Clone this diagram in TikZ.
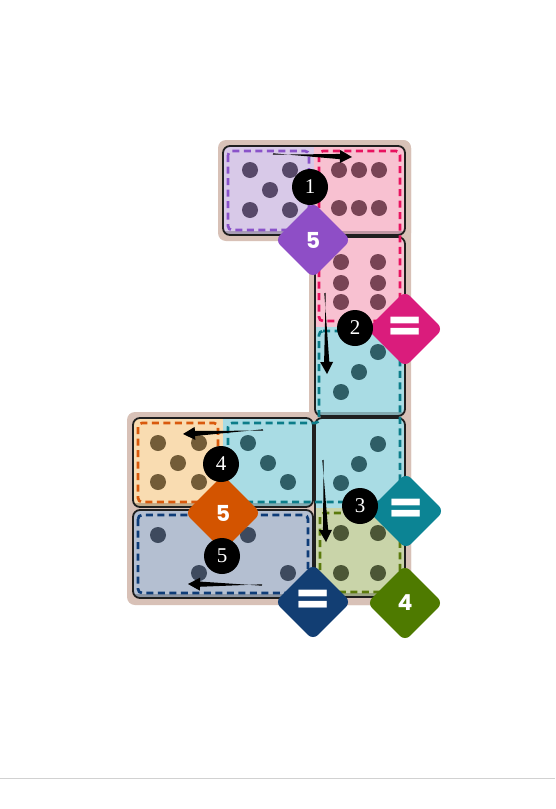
\documentclass[tikz,border=0pt]{standalone}
\usepackage{fontspec}
\usepackage{graphicx}
\usetikzlibrary{arrows.meta,shapes.geometric,calc}
\newfontfamily\badgefont{Poppins}
\newfontfamily\numfont{Liberation Serif}
\definecolor{bgtan}{HTML}{D8C1B7}
\definecolor{purF}{HTML}{D8C9E8}\definecolor{purD}{HTML}{8A52C9}\definecolor{purB}{HTML}{8E4EC6}\definecolor{purP}{HTML}{574869}
\definecolor{pinkF}{HTML}{F8C1D1}\definecolor{pinkD}{HTML}{E8125F}\definecolor{pinkB}{HTML}{DA1C7C}\definecolor{pinkP}{HTML}{784455}
\definecolor{tealF}{HTML}{A9DCE4}\definecolor{tealD}{HTML}{0B7C89}\definecolor{tealB}{HTML}{0C8494}\definecolor{tealP}{HTML}{2F5E66}
\definecolor{oranF}{HTML}{F9DCB1}\definecolor{oranD}{HTML}{D9590C}\definecolor{oranB}{HTML}{D35400}\definecolor{oranP}{HTML}{735C38}
\definecolor{navyF}{HTML}{B4BFD1}\definecolor{navyD}{HTML}{0E3C78}\definecolor{navyB}{HTML}{123E73}\definecolor{navyP}{HTML}{3E4A5E}
\definecolor{grnF}{HTML}{C9D4A9}\definecolor{grnD}{HTML}{5B7A0C}\definecolor{grnB}{HTML}{4E7A00}\definecolor{grnP}{HTML}{4C5636}
\newcommand\pipdot[3]{\fill[#1] (#2,#3) circle (8pt);}
\newcommand\taperarrow[2]{%
  \coordinate (hb) at ($(#2)!12pt!(#1)$);
  \fill ($(#1)!0.7pt!90:(#2)$) -- ($(hb)!2.6pt!-90:(#2)$) -- ($(hb)!6.5pt!-90:(#2)$) -- (#2)
     -- ($(hb)!6.5pt!90:(#2)$) -- ($(hb)!2.6pt!90:(#2)$) -- ($(#1)!0.7pt!-90:(#2)$) -- cycle;}
\tikzset{
  domino/.style={draw=black!88,line width=1.8pt,rounded corners=7pt},
  shade/.style={black,opacity=0.22},
  region/.style={dash pattern=on 7pt off 4.5pt,line width=2.7pt,rounded corners=4pt},
  badge/.style={diamond,aspect=1,minimum size=76pt,inner sep=0pt,rounded corners=7pt,
    text=white,font=\badgefont\bfseries\fontsize{22}{22}\selectfont},
  numc/.style={circle,fill=black,minimum size=36pt,inner sep=0pt,text=white,
    font=\numfont\fontsize{21}{21}\selectfont}
}
\newcommand\eqsign{\scalebox{2.3}[2.0]{=}}
\begin{document}
\begin{tikzpicture}[x=1pt,y=-1pt]
\useasboundingbox (0,0) rectangle (555,809);
\fill[white] (0,0) rectangle (555,809);
\draw[black!18,line width=1pt] (0,778) -- (555,778);
% tan board
\fill[bgtan,rounded corners=8pt] (218,140) rectangle (411,241);
\fill[bgtan,rounded corners=8pt] (309,140) rectangle (411,605);
\fill[bgtan,rounded corners=8pt] (127,412) rectangle (411,605);
% D1
\begin{scope}
\clip[rounded corners=7pt] (223,146) rectangle (405,235);
\fill[purF] (223,146) rectangle (314,235);
\fill[pinkF] (314,146) rectangle (405,235);
\fill[shade] (223,231) rectangle (405,235);
\end{scope}
\draw[domino] (223,146) rectangle (405,235);
% D2
\begin{scope}
\clip[rounded corners=7pt] (315,237) rectangle (405,416);
\fill[pinkF] (315,237) rectangle (405,326.5);
\fill[tealF] (315,326.5) rectangle (405,416);
\fill[shade] (315,412) rectangle (405,416);
\end{scope}
\draw[domino] (315,237) rectangle (405,416);
% D3
\begin{scope}
\clip[rounded corners=7pt] (133,418) rectangle (313,507);
\fill[oranF] (133,418) rectangle (223,507);
\fill[tealF] (223,418) rectangle (313,507);
\fill[shade] (133,503) rectangle (313,507);
\end{scope}
\draw[domino] (133,418) rectangle (313,507);
% D4
\begin{scope}
\clip[rounded corners=7pt] (315,418) rectangle (405,597);
\fill[tealF] (315,418) rectangle (405,507.5);
\fill[grnF] (315,507.5) rectangle (405,597);
\fill[shade] (315,593) rectangle (405,597);
\end{scope}
\draw[domino] (315,418) rectangle (405,597);
% D5
\begin{scope}
\clip[rounded corners=7pt] (133,510) rectangle (313,598);
\fill[navyF] (133,510) rectangle (313,598);
\fill[shade] (133,594) rectangle (313,598);
\end{scope}
\draw[domino] (133,510) rectangle (313,598);
% region borders
\draw[region,purD] (228,151) rectangle (309,230);
\draw[region,pinkD] (319,151) rectangle (400,321);
\draw[region,tealD] (319,331) -- (400,331) -- (400,502) -- (228,502) -- (228,423) -- (319,423) -- cycle;
\draw[region,oranD] (138,423) rectangle (218,502);
\draw[region,navyD] (138,515) rectangle (308,593);
\draw[region,grnD] (320,513) rectangle (400,592);
% pips
\pipdot{purP}{250}{170}\pipdot{purP}{290}{170}\pipdot{purP}{270}{190}\pipdot{purP}{250}{210}\pipdot{purP}{290}{210}
\pipdot{pinkP}{339}{170}\pipdot{pinkP}{359}{170}\pipdot{pinkP}{379}{170}\pipdot{pinkP}{339}{208}\pipdot{pinkP}{359}{208}\pipdot{pinkP}{379}{208}
\pipdot{pinkP}{341}{262}\pipdot{pinkP}{378}{262}\pipdot{pinkP}{341}{283}\pipdot{pinkP}{378}{283}\pipdot{pinkP}{341}{302}\pipdot{pinkP}{378}{302}
\pipdot{tealP}{378}{352}\pipdot{tealP}{359}{372}\pipdot{tealP}{341}{392}
\pipdot{tealP}{378}{444}\pipdot{tealP}{359}{464}\pipdot{tealP}{341}{483}
\pipdot{grnP}{341}{533}\pipdot{grnP}{378}{533}\pipdot{grnP}{341}{573}\pipdot{grnP}{378}{573}
\pipdot{oranP}{158}{443}\pipdot{oranP}{199}{443}\pipdot{oranP}{178}{463}\pipdot{oranP}{158}{482}\pipdot{oranP}{199}{482}
\pipdot{tealP}{248}{443}\pipdot{tealP}{268}{463}\pipdot{tealP}{288}{482}
\pipdot{navyP}{158}{535}\pipdot{navyP}{199}{573}\pipdot{navyP}{248}{535}\pipdot{navyP}{288}{573}
% badges
\node[badge,fill=purB] (b1) at (313,240) {5};
\node[badge,fill=pinkB] (b2) at (405,329) {\eqsign};
\node[badge,fill=tealB] (b3) at (406,511) {\eqsign};
\node[badge,fill=oranB] (b4) at (223,513) {5};
\node[badge,fill=grnB] (b5) at (405,603) {4};
\node[badge,fill=navyB] (b6) at (313,602) {\eqsign};
% arrows
\coordinate (a1s) at (273,154); \coordinate (a1e) at (352,157);
\coordinate (a2s) at (325,293); \coordinate (a2e) at (327,374);
\coordinate (a3s) at (323,460); \coordinate (a3e) at (326,542);
\coordinate (a4s) at (263,430); \coordinate (a4e) at (183,434);
\coordinate (a5s) at (262,585); \coordinate (a5e) at (188,584);
\taperarrow{a1s}{a1e}
\taperarrow{a2s}{a2e}
\taperarrow{a3s}{a3e}
\taperarrow{a4s}{a4e}
\taperarrow{a5s}{a5e}
% step circles
\node[numc] (n1) at (310,187) {1};
\node[numc] (n2) at (355,328) {2};
\node[numc] (n3) at (360,506) {3};
\node[numc] (n4) at (221,464) {4};
\node[numc] (n5) at (222,556) {5};
\end{tikzpicture}
\end{document}
